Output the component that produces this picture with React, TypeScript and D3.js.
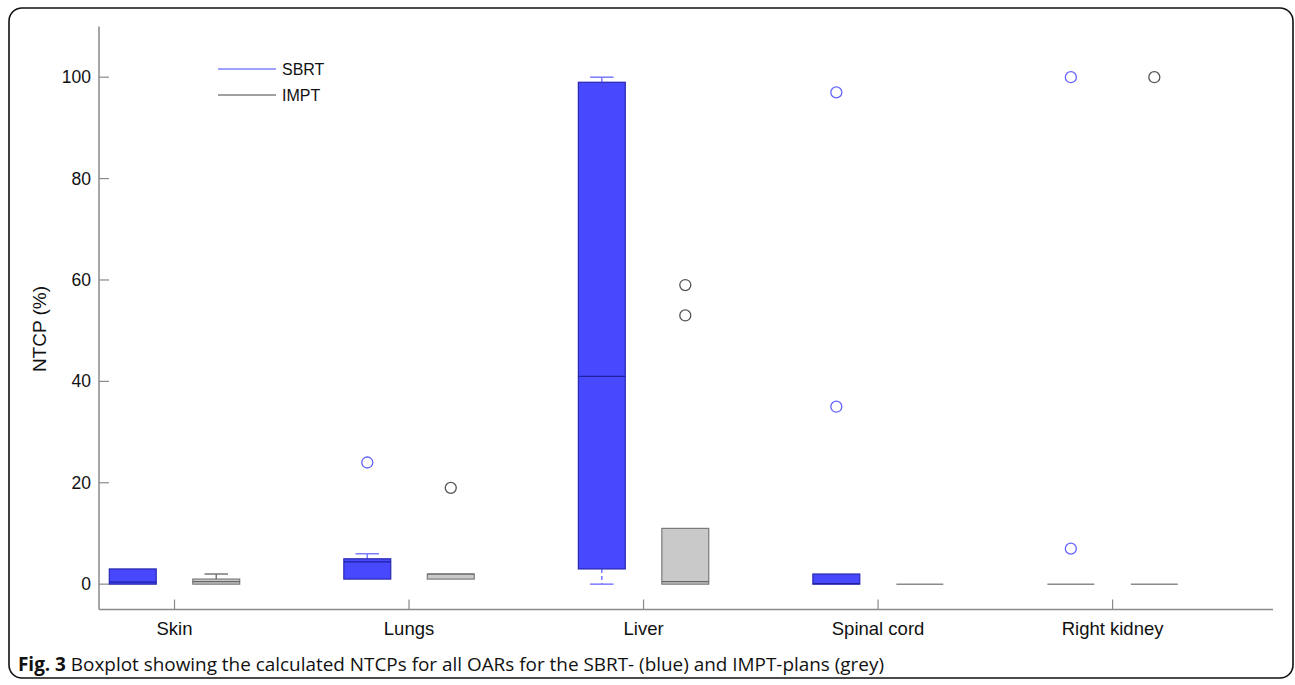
import React from 'react';
import * as d3 from 'd3';

// categories and box statistics (NTCP in %)
const categories = ['Skin', 'Lungs', 'Liver', 'Spinal cord', 'Right kidney'];
const yTicks = [0, 20, 40, 60, 80, 100];

const sbrtLow = [0, 1, 0, 0, 0];
const sbrtQ1 = [0, 1, 3, 0, 0];
const sbrtMedian = [0.4, 4.4, 41, 0.1, 0];
const sbrtQ3 = [3, 5, 99, 2, 0];
const sbrtHigh = [3, 6, 100, 2, 0];
const sbrtOutliers = [[], [24], [], [97, 35], [100, 7]];

const imptLow = [0, 1, 0, 0, 0];
const imptQ1 = [0, 1, 0, 0, 0];
const imptMedian = [0.5, 2, 0.5, 0, 0];
const imptQ3 = [1, 2, 11, 0, 0];
const imptHigh = [2, 2, 11, 0, 0];
const imptOutliers = [[], [19], [59, 53], [], [100]];

const series = [
  {
    name: 'SBRT', offset: -0.178, low: sbrtLow, q1: sbrtQ1, med: sbrtMedian, q3: sbrtQ3, high: sbrtHigh,
    out: sbrtOutliers, fill: '#4848ff', edge: '#2828b0', medColor: '#2020a0', whisker: '#7a7aff', outColor: '#6464ff',
  },
  {
    name: 'IMPT', offset: 0.178, low: imptLow, q1: imptQ1, med: imptMedian, q3: imptQ3, high: imptHigh,
    out: imptOutliers, fill: '#c9c9c9', edge: '#7a7a7a', medColor: '#666', whisker: '#777', outColor: '#555',
  },
];

const W = 1295;
const H = 685;
const FONT = '"Liberation Sans", Arial, Helvetica, sans-serif';

export default function App() {
  const left = 99;
  const right = 1273;
  const x = d3.scaleLinear().domain([-0.322, 4.684]).range([left, right]);
  const y = d3.scaleLinear().domain([-5, 110]).range([609.5, 26.5]);
  const boxW = x(0.1) - x(-0.1);
  const capW = boxW / 2;
  const axisColor = '#8a8a8a';

  return (
    <svg width={W} height={H} style={{ position: 'absolute', left: 0, top: 0, background: '#fff' }}>
      {/* frame */}
      <rect x={9} y={8} width={1284} height={670} rx={13} fill="none" stroke="#111" strokeWidth={1.6} />

      {/* axes */}
      <line x1={left} x2={left} y1={y(110)} y2={y(-5)} stroke={axisColor} strokeWidth={1.5} />
      <line x1={left} x2={right} y1={y(-5)} y2={y(-5)} stroke={axisColor} strokeWidth={1.5} />
      {yTicks.map((t) => (
        <g key={t}>
          <line x1={left} x2={left + 10} y1={y(t)} y2={y(t)} stroke={axisColor} strokeWidth={1.2} />
          <text x={left - 8} y={y(t)} dy="0.35em" textAnchor="end" fontFamily={FONT} fontSize={17.5} fill="#111">{t}</text>
        </g>
      ))}
      {categories.map((c, i) => (
        <g key={c}>
          <line x1={x(i)} x2={x(i)} y1={y(-5)} y2={y(-5) - 10} stroke={axisColor} strokeWidth={1.2} />
          <text x={x(i)} y={y(-5) + 25} textAnchor="middle" fontFamily={FONT} fontSize={18.5} fill="#111">{c}</text>
        </g>
      ))}
      <text transform="translate(46,329) rotate(-90)" textAnchor="middle" fontFamily={FONT} fontSize={19} fill="#111">NTCP (%)</text>

      {/* boxes */}
      {series.map((s) => categories.map((c, i) => {
        const cx = x(i + s.offset);
        const flat = s.q3[i] === s.q1[i];
        return (
          <g key={s.name + c}>
            {s.high[i] > s.q3[i] && (
              <g stroke={s.whisker} strokeWidth={1.5}>
                <line x1={cx} x2={cx} y1={y(s.q3[i])} y2={y(s.high[i])} strokeDasharray={s.high[i] - s.q3[i] > 1.5 ? '4,3' : undefined} />
                <line x1={cx - capW / 2} x2={cx + capW / 2} y1={y(s.high[i])} y2={y(s.high[i])} />
              </g>
            )}
            {s.low[i] < s.q1[i] && (
              <g stroke={s.whisker} strokeWidth={1.5}>
                <line x1={cx} x2={cx} y1={y(s.q1[i])} y2={y(s.low[i])} strokeDasharray="4,3" />
                <line x1={cx - capW / 2} x2={cx + capW / 2} y1={y(s.low[i])} y2={y(s.low[i])} />
              </g>
            )}
            {flat ? (
              <line x1={cx - boxW / 2} x2={cx + boxW / 2} y1={y(s.q1[i])} y2={y(s.q1[i])} stroke="#8a8a8a" strokeWidth={1.5} />
            ) : (
              <>
                <rect x={cx - boxW / 2} y={y(s.q3[i])} width={boxW} height={y(s.q1[i]) - y(s.q3[i])}
                  fill={s.fill} stroke={s.edge} strokeWidth={1.2} />
                <line x1={cx - boxW / 2} x2={cx + boxW / 2} y1={y(s.med[i])} y2={y(s.med[i])} stroke={s.medColor} strokeWidth={1.2} />
              </>
            )}
            {s.out[i].map((v, k) => (
              <circle key={k} cx={cx} cy={y(v)} r={5.5} fill="none" stroke={s.outColor} strokeWidth={1.3} />
            ))}
          </g>
        );
      }))}

      {/* legend */}
      <line x1={218} x2={276} y1={69} y2={69} stroke="#8080ff" strokeWidth={1.5} />
      <text x={282} y={69} dy="0.35em" fontFamily={FONT} fontSize={16} fill="#111">SBRT</text>
      <line x1={218} x2={276} y1={95} y2={95} stroke="#808080" strokeWidth={1.5} />
      <text x={282} y={95} dy="0.35em" fontFamily={FONT} fontSize={16} fill="#111">IMPT</text>

      {/* caption */}
      <text x={18} y={671} fontFamily='"Liberation Sans Narrow", "Open Sans", "Noto Sans", sans-serif' fontSize={19} fill="#111"
        textLength={866} lengthAdjust="spacingAndGlyphs">
        <tspan fontWeight="bold">Fig. 3</tspan> Boxplot showing the calculated NTCPs for all OARs for the SBRT- (blue) and IMPT-plans (grey)
      </text>
    </svg>
  );
}
